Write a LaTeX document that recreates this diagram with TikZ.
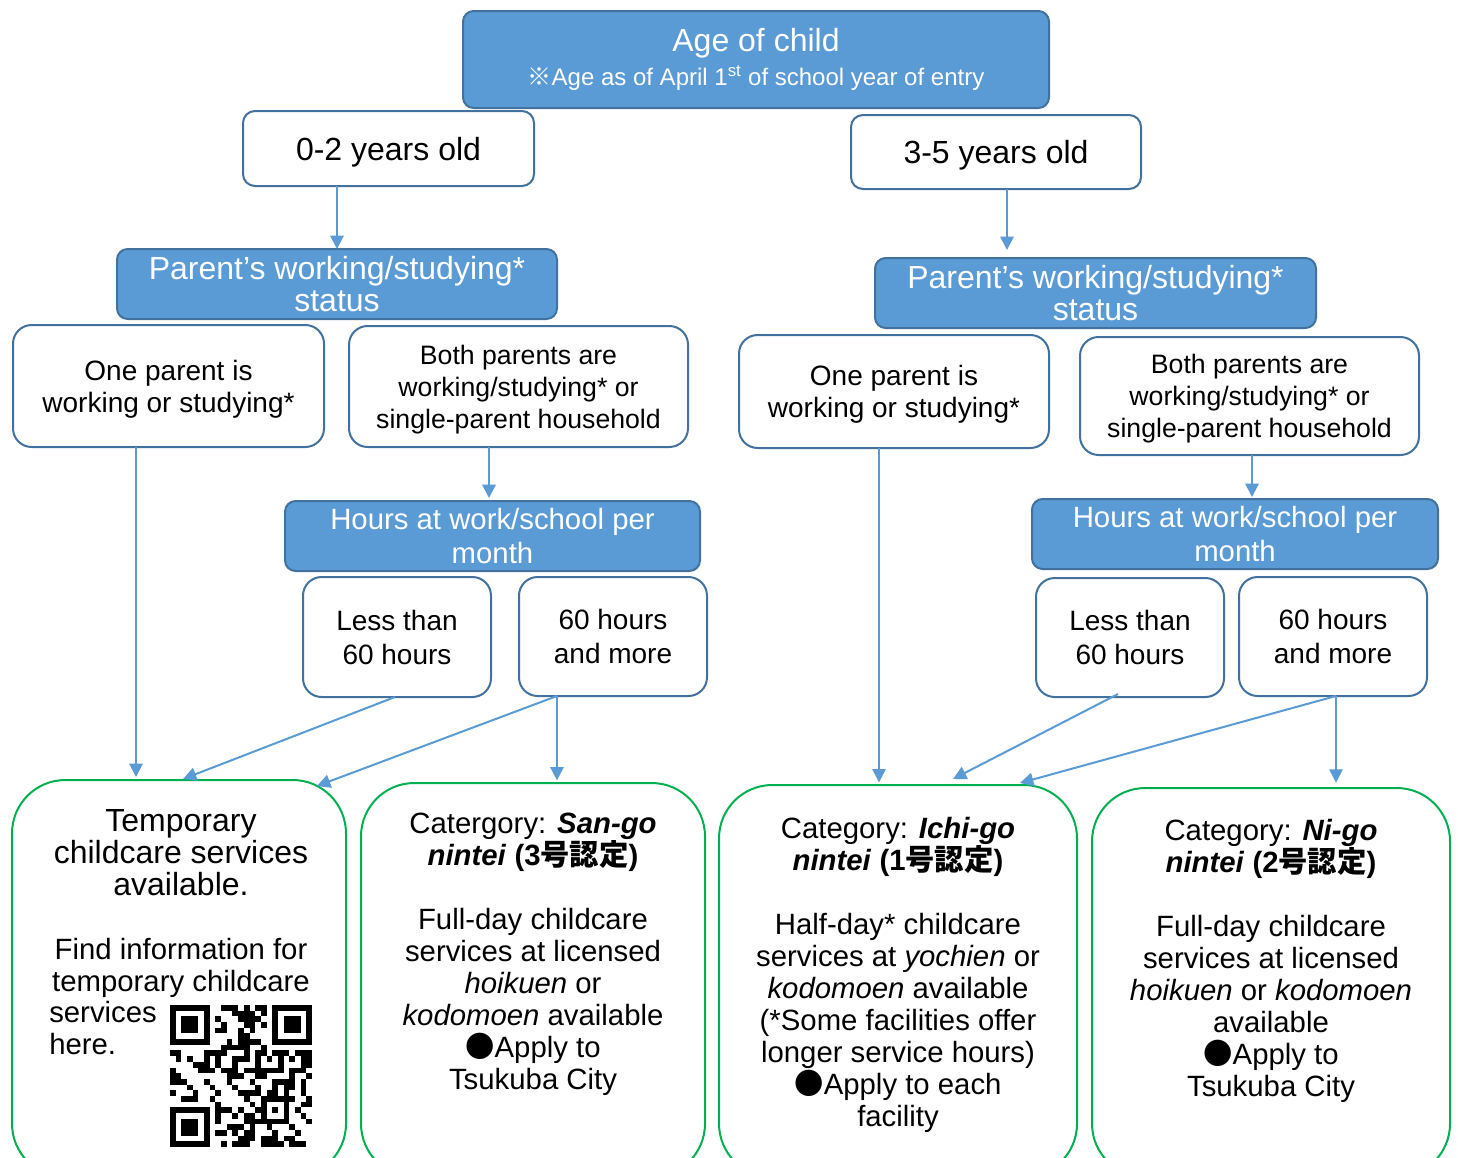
\documentclass[tikz,border=0pt]{standalone}
\usepackage{fontspec}
\setmainfont{Liberation Sans}
\newfontfamily\jp{Noto Sans CJK JP}
\usetikzlibrary{arrows.meta}
\definecolor{bfill}{HTML}{5B9BD5}
\definecolor{bedge}{HTML}{41719C}
\definecolor{gedge}{HTML}{00B050}
\definecolor{arrc}{HTML}{5B9BD5}
\newcommand\fs[2]{\fontsize{#1}{#2}\selectfont}
\newcommand\bnode[7]{%
 \pgfmathsetmacro\bcx{(#3+#5)/2}%
 \pgfmathsetmacro\bcy{(#4+#6)/2}%
 \pgfmathsetmacro\bw{(#5-#3)*0.75}%
 \pgfmathsetmacro\bh{(#6-#4)*0.75}%
 \node[#2,minimum width=\bw pt,minimum height=\bh pt] (#1) at (\bcx,\bcy) {#7};}
\tikzset{
 bluebox/.style={draw=bedge,fill=bfill,line width=1.5pt,rounded corners=8pt,text=white,align=center,inner sep=0pt,outer sep=0pt},
 whitebox/.style={draw=bedge,fill=white,line width=1.5pt,rounded corners=14pt,align=center,inner sep=0pt,outer sep=0pt},
 smallwhite/.style={whitebox,rounded corners=9pt},
 nodepth/.style={text depth=0pt},
 greenbox/.style={draw=gedge,line width=1.5pt,rounded corners=40pt,inner sep=0pt,outer sep=0pt},
 gtext/.style={align=center,inner sep=0pt,font=\fs{22}{24}},
 arr/.style={draw=arrc,line width=1.5pt,-{Triangle[length=10pt,width=10pt]}}
}
\begin{document}
\begin{tikzpicture}[x=0.75pt,y=-0.75pt]
\useasboundingbox (0,0) rectangle (1458,1157);
\clip (0,0) rectangle (1458,1157);
\fill[white] (0,0) rectangle (1458,1157);

% top
\bnode{age}{bluebox,font=\fs{24}{24}}{463}{11}{1049}{108}{Age of child\\[1pt]{\fs{18}{20}{\jp ※}Age as of April 1\textsuperscript{st} of school year of entry}}
\bnode{y02}{smallwhite,nodepth,font=\fs{24}{24}}{243}{111}{534}{186}{0-2 years old}
\bnode{y35}{smallwhite,nodepth,font=\fs{24}{24}}{851}{115}{1141}{189}{3-5 years old}

% parent status
\bnode{parL}{bluebox,font=\fs{24}{24}}{117}{249}{557}{319}{Parent’s working/studying*\\status}
\bnode{parR}{bluebox,font=\fs{24}{24}}{875}{258}{1316}{328}{Parent’s working/studying*\\status}
\bnode{oneL}{whitebox,nodepth,font=\fs{21}{24}}{13}{325}{324}{447}{One parent is\\working or studying*}
\bnode{bothL}{whitebox,nodepth,font=\fs{20}{24}}{349}{326}{688}{447}{Both parents are\\working/studying* or\\single-parent household}
\bnode{oneR}{whitebox,nodepth,font=\fs{21}{24}}{739}{335}{1049}{448}{One parent is\\working or studying*}
\bnode{bothR}{whitebox,nodepth,font=\fs{20}{24}}{1080}{337}{1419}{455}{Both parents are\\working/studying* or\\single-parent household}

% hours
\bnode{hrsL}{bluebox,font=\fs{22}{25.5}}{285}{501}{700}{571}{Hours at work/school per\\month}
\bnode{hrsR}{bluebox,font=\fs{22}{25.5}}{1032}{499}{1438}{569}{Hours at work/school per\\month}
\bnode{lessL}{whitebox,font=\fs{21}{25.5}}{303}{577}{491}{697}{Less than\\60 hours}
\bnode{sixL}{whitebox,font=\fs{21}{25.5}}{519}{577}{707}{696}{60 hours\\and more}
\bnode{lessR}{whitebox,font=\fs{21}{25.5}}{1036}{578}{1224}{697}{Less than\\60 hours}
\bnode{sixR}{whitebox,font=\fs{21}{25.5}}{1239}{577}{1427}{696}{60 hours\\and more}

% result boxes
\bnode{temp}{greenbox}{12}{780}{346}{1177}{}
\bnode{sango}{greenbox}{361}{783}{705}{1177}{}
\bnode{ichigo}{greenbox}{719}{785}{1077}{1177}{}
\bnode{nigo}{greenbox}{1092}{788}{1450}{1177}{}

\node[gtext,font=\fs{24}{24},anchor=north] (temptxt) at (181,809) {Temporary\\childcare services\\available.\\[24pt]{\fs{22}{24}Find information for}\\{\fs{22}{24}temporary childcare}};
\node[gtext,anchor=north west,align=left] (svctxt) at (49,1001) {services\\here.};

\node[gtext,anchor=north] (sangotxt) at (533,813) {Catergory: \textbf{\textit{San-go}}\\\textbf{\textit{nintei} (3{\jp 号認定})}\\[24pt]Full-day childcare\\services at licensed\\\textit{hoikuen} or\\\textit{kodomoen} available\\{\jp ●}Apply to\\Tsukuba City};
\node[gtext,anchor=north] (ichigotxt) at (898,817) {Category: \textbf{\textit{Ichi-go}}\\\textbf{\textit{nintei} (1{\jp 号認定})}\\[24pt]Half-day* childcare\\services at \textit{yochien} or\\\textit{kodomoen} available\\(*Some facilities offer\\longer service hours)\\{\jp ●}Apply to each\\facility};
\node[gtext,anchor=north] (nigotxt) at (1271,819) {Category: \textbf{\textit{Ni-go}}\\\textbf{\textit{nintei} (2{\jp 号認定})}\\[24pt]Full-day childcare\\services at licensed\\\textit{hoikuen} or \textit{kodomoen}\\available\\{\jp ●}Apply to\\Tsukuba City};

% QR code (drawn pattern)
\begin{scope}
\foreach \i in {0,...,24}{\foreach \j in {0,...,24}{%
  \pgfmathtruncatemacro\qrbit{mod(mod(\i*\i*7,31)*11+mod(\j*\j*13,37)*5+\i*\j*3+\i+\j*2,13)<6?1:0}%
  \ifnum\qrbit=1 \fill[black] ({170+\i*5.68},{1005+\j*5.68}) rectangle ++(5.68,5.68);\fi}}
\foreach \wx/\wy/\fx/\fy in {0/0/0/0,17/0/18/0,0/17/0/18}{
 \fill[white] ({170+\wx*5.68},{1005+\wy*5.68}) rectangle ++(45.44,45.44);
 \fill[black] ({170+\fx*5.68},{1005+\fy*5.68}) rectangle ++(39.76,39.76);
 \fill[white] ({170+(\fx+1)*5.68},{1005+(\fy+1)*5.68}) rectangle ++(28.4,28.4);
 \fill[black] ({170+(\fx+2)*5.68},{1005+(\fy+2)*5.68}) rectangle ++(17.04,17.04);
}
\fill[black] ({170+16*5.68},{1005+16*5.68}) rectangle ++(28.4,28.4);
\fill[white] ({170+17*5.68},{1005+17*5.68}) rectangle ++(17.04,17.04);
\fill[black] ({170+18*5.68},{1005+18*5.68}) rectangle ++(5.68,5.68);
\end{scope}

% connectors
\coordinate (e0r) at (1007,250);
\draw[arr] (y02.south -| parL.north) -- (parL.north);
\draw[arr] (y35.south -| e0r) -- (e0r);
\coordinate (eh1) at (489,498);
\coordinate (eh2) at (1252,497);
\draw[arr] (bothL.south -| eh1) -- (eh1);
\draw[arr] (bothR.south -| eh2) -- (eh2);

\coordinate (e1) at (136,777);
\coordinate (e2) at (183,779);
\coordinate (e3) at (317,786);
\draw[arr] (oneL.south -| e1) -- (e1);
\draw[arr] ([xshift=-1.5pt]lessL.south) -- (e2);
\draw[arr] ([xshift=-42pt]sixL.south) -- (e3);
\draw[arr] ([xshift=-42pt]sixL.south) -- ([xshift=-42pt,yshift=2pt]sixL.south |- sango.north);

\coordinate (e6) at (953,779);
\coordinate (e7) at (1020,783);
\draw[arr] ([xshift=-11.25pt]oneR.south) -- ([xshift=-11.25pt,yshift=2pt]oneR.south |- ichigo.north);
\draw[arr] ([xshift=-9pt,yshift=2.25pt]lessR.south) -- (e6);
\draw[arr] ([xshift=2.25pt]sixR.south) -- (e7);
\draw[arr] ([xshift=2.25pt]sixR.south) -- ([xshift=2.25pt,yshift=4pt]sixR.south |- nigo.north);
\end{tikzpicture}
\end{document}
